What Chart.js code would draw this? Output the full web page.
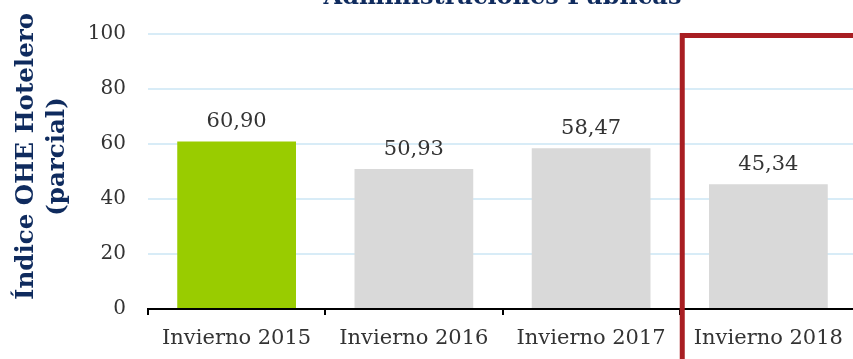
<!DOCTYPE html>
<html>
<head>
<meta charset="utf-8">
<script src="https://cdn.jsdelivr.net/npm/chart.js@4/dist/chart.umd.min.js"></script>
<style>
  html, body { margin: 0; padding: 0; overflow: hidden; background: #fff; }
  #wrap { position: relative; width: 857px; height: 359px; }
</style>
</head>
<body>
<div id="wrap"><canvas id="chart"></canvas></div>
<script>
const categories = ['Invierno 2015', 'Invierno 2016', 'Invierno 2017', 'Invierno 2018'];
const values = [60.90, 50.93, 58.47, 45.34];
const barColors = ['#99cc00', '#d9d9d9', '#d9d9d9', '#d9d9d9'];
const yTicks = [0, 20, 40, 60, 80, 100];
const chartTitle = 'Administraciones Públicas';
const yTitle = ['Índice OHE Hotelero', '(parcial)'];
const highlightFrom = 3; // index of the boxed period

const serif = "'DejaVu Serif', 'Liberation Serif', serif";
const navy = '#0f2b5e';

function formatValue(v) {
    return v.toFixed(2).replace('.', ',');
}

// labels above each bar, titles, red box around the last period
const overlay = {
    id: 'overlay',
    afterDatasetsDraw(chart) {
        const ctx = chart.ctx;
        const meta = chart.getDatasetMeta(0);
        ctx.save();
        ctx.font = '21px ' + serif;
        ctx.fillStyle = '#333333';
        ctx.textAlign = 'center';
        ctx.textBaseline = 'bottom';
        meta.data.forEach((bar, i) => {
            ctx.fillText(formatValue(values[i]), bar.x, bar.y - 9);
        });

        const area = chart.chartArea;
        ctx.font = 'bold 24px ' + serif;
        ctx.fillStyle = navy;
        ctx.textBaseline = 'alphabetic';
        ctx.fillText(chartTitle, (area.left + area.right) / 2, 4);

        // axis title sits a bit above the plot's middle
        const midY = (area.top + area.bottom) / 2 - 15;
        ctx.translate(27, midY);
        ctx.rotate(-Math.PI / 2);
        ctx.font = 'bold 24.5px ' + serif;
        ctx.textBaseline = 'middle';
        yTitle.forEach((line, i) => ctx.fillText(line, 0, i * 31));
        ctx.restore();
    },
    afterDraw(chart) {
        const ctx = chart.ctx;
        const x = chart.scales.x;
        const y = chart.scales.y;
        const half = (x.getPixelForValue(1) - x.getPixelForValue(0)) / 2;
        const left = x.getPixelForValue(highlightFrom) - half + 2.5;
        const top = y.getPixelForValue(100) + 1.5;
        ctx.save();
        ctx.strokeStyle = '#a81e22';
        ctx.lineWidth = 5;
        ctx.strokeRect(left, top, chart.width, chart.height);
        ctx.restore();
    }
};

new Chart(document.getElementById('chart'), {
    type: 'bar',
    data: {
        labels: categories,
        datasets: [{
            data: values,
            backgroundColor: barColors,
            barPercentage: 0.67,
            categoryPercentage: 1
        }]
    },
    options: {
        responsive: true,
        maintainAspectRatio: false,
        animation: false,
        layout: { padding: { top: 31, right: 0, left: 0, bottom: 0 } },
        plugins: {
            legend: { display: false },
            tooltip: { enabled: false }
        },
        scales: {
            x: {
                grid: {
                    drawOnChartArea: false,
                    color: '#000',
                    lineWidth: 2,
                    tickLength: 6
                },
                border: { color: '#000', width: 2 },
                ticks: {
                    color: '#333333',
                    font: { family: serif, size: 21 },
                    padding: 11
                },
                afterFit(scale) { scale.height = 50; }
            },
            y: {
                min: 0,
                max: 100,
                afterBuildTicks(scale) { scale.ticks = yTicks.map(v => ({ value: v })); },
                grid: { color: '#d8ecf7', lineWidth: 2, drawTicks: false },
                border: { display: false },
                ticks: {
                    color: '#333333',
                    font: { family: serif, size: 20 },
                    padding: 22
                },
                afterFit(scale) { scale.width = 148; }
            }
        }
    },
    plugins: [overlay]
});
</script>
</body>
</html>
